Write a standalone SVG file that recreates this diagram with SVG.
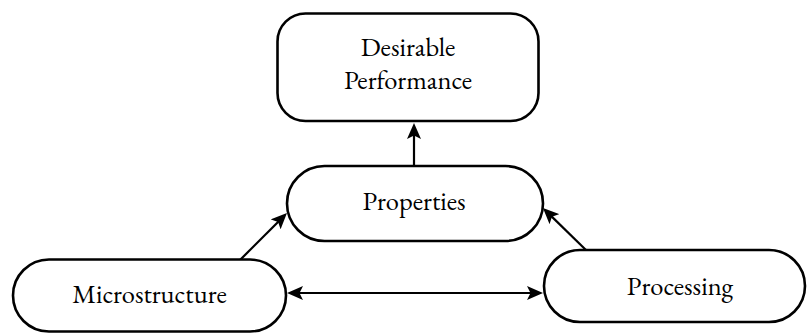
<svg xmlns="http://www.w3.org/2000/svg" width="808" height="333" viewBox="0 0 808 333">
  <style>
    .box { fill: #ffffff; stroke: #000000; stroke-width: 2.6; }
    .label { font-family: "EB Garamond", "Liberation Serif", serif; font-size: 26.5px; fill: #000000; text-anchor: middle; }
    .link { fill: none; stroke: #000000; stroke-width: 2.2; }
  </style>
  <defs>
    <marker id="head" viewBox="0 0 16 14" refX="8" refY="7" markerWidth="16" markerHeight="14" markerUnits="userSpaceOnUse" orient="auto-start-reverse">
      <path d="M0,0 L16,7 L0,14 L3.5,7 z" fill="#000000"/>
    </marker>
  </defs>

  <rect width="808" height="333" fill="#ffffff"/>

  <g id="connectors">
    <!-- Properties to Desirable Performance -->
    <line class="link" x1="414" y1="166" x2="414" y2="131" marker-end="url(#head)"/>
    <!-- Microstructure to Properties -->
    <line class="link" x1="240" y1="260" x2="281.3" y2="218.7" marker-end="url(#head)"/>
    <!-- Processing to Properties -->
    <line class="link" x1="587" y1="251" x2="548.7" y2="213.6" marker-end="url(#head)"/>
    <!-- Microstructure to and from Processing -->
    <line class="link" x1="295" y1="293" x2="535" y2="293" marker-start="url(#head)" marker-end="url(#head)"/>
  </g>

  <g id="desirable-performance">
    <rect class="box" x="277.5" y="13.5" width="261" height="107.5" rx="28" ry="28"/>
    <text class="label" x="408" y="56">Desirable</text>
    <text class="label" x="408" y="89">Performance</text>
  </g>

  <g id="properties">
    <rect class="box" x="287" y="166" width="256" height="75" rx="37.5" ry="37.5"/>
    <text class="label" x="414" y="210">Properties</text>
  </g>

  <g id="microstructure">
    <rect class="box" x="13" y="259.5" width="273" height="72" rx="36" ry="36"/>
    <text class="label" x="149.5" y="303">Microstructure</text>
  </g>

  <g id="processing">
    <rect class="box" x="544" y="250" width="261" height="72" rx="36" ry="36"/>
    <text class="label" x="680" y="295">Processing</text>
  </g>
</svg>
